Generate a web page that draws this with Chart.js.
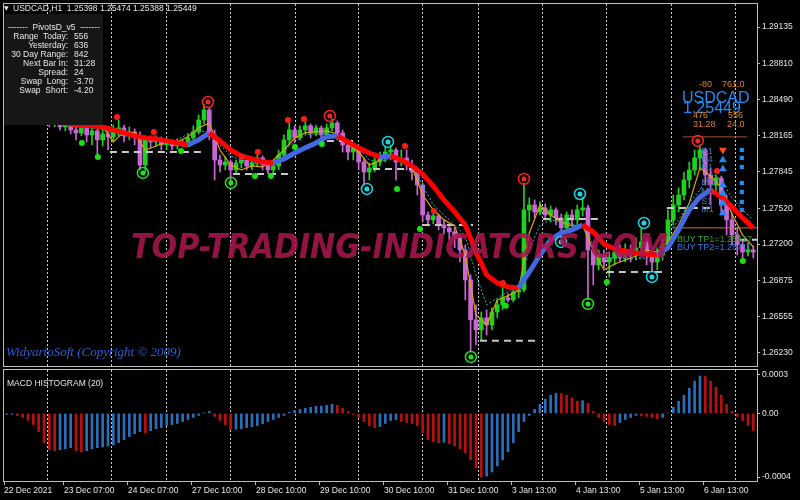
<!DOCTYPE html>
<html>
<head>
<meta charset="utf-8">
<title>USDCAD H1</title>
<script src="https://cdn.jsdelivr.net/npm/chart.js@4.4.1/dist/chart.umd.min.js"></script>
<style>
  html, body { margin: 0; padding: 0; background: #000; }
  #wrap { position: relative; width: 800px; height: 500px; overflow: hidden; background: #000;
          font-family: "Liberation Sans", "DejaVu Sans", sans-serif; }
  canvas { position: absolute; left: 0; }
  #main { top: 0; }
  #macd { top: 369px; }
  .t { position: absolute; white-space: pre; line-height: 1; color: #e6e6e6; font-size: 8.5px; }
  .box { position: absolute; left: 4px; top: 14px; width: 99px; height: 111px; background: #161616; }
  .lbl { width: 68px; left: 0; text-align: right; }
  .val { left: 74px; }
  .or { color: #e0821e; font-size: 9px; }
  .big { color: #1e8cf5; font-size: 16px; }
</style>
</head>
<body>
<div id="wrap">
  <canvas id="main" width="800" height="369"></canvas>
  <canvas id="macd" width="800" height="131"></canvas>

  <div class="t" style="left:4px; top:5px; font-family:'DejaVu Sans'; font-size:6px;">▼</div>
  <div class="t" style="left:13px; top:4px;">USDCAD,H1  1.25398 1.25474 1.25388 1.25449</div>

  <div class="box"></div>
  <div class="t" style="left:0; width:108px; text-align:center; top:23px;">-------  PivotsD_v5  -------</div>
  <div class="t lbl" style="top:32px;">Range  Today:</div><div class="t val" style="top:32px;">556</div>
  <div class="t lbl" style="top:41px;">Yesterday:</div><div class="t val" style="top:41px;">636</div>
  <div class="t lbl" style="top:50px;">30 Day Range:</div><div class="t val" style="top:50px;">842</div>
  <div class="t lbl" style="top:59px;">Next Bar In:</div><div class="t val" style="top:59px;">31:28</div>
  <div class="t lbl" style="top:68px;">Spread:</div><div class="t val" style="top:68px;">24</div>
  <div class="t lbl" style="top:77px;">Swap  Long:</div><div class="t val" style="top:77px;">-3.70</div>
  <div class="t lbl" style="top:86px;">Swap  Short:</div><div class="t val" style="top:86px;">-4.20</div>

  <div class="t or" style="left:699px; top:80px;">-80</div>
  <div class="t or" style="left:722px; top:80px;">761.0</div>
  <div class="t big" style="left:682px; top:90px;">USDCAD</div>
  <div class="t big" style="left:683px; top:100px;">1.25449</div>
  <div class="t or" style="left:693px; top:111px;">476</div>
  <div class="t or" style="left:728px; top:111px;">556</div>
  <div class="t or" style="left:693px; top:120px;">31.28</div>
  <div class="t or" style="left:727px; top:120px;">24.0</div>

  <div class="t" style="left:677px; top:235px; color:#2f9e2f; font-size:9px;">BUY TP1=1.25617</div>
  <div class="t" style="left:677px; top:243px; color:#3a78d8; font-size:9px;">BUY TP2=1.25711</div>

  <div class="t" style="left:6px; top:345px; color:#2d5fd8; font-size:13px; font-style:italic; font-family:'Liberation Serif', serif;">WidyartoSoft (Copyright © 2009)</div>
  <div class="t" style="left:7px; top:379px;">MACD HISTOGRAM (20)</div>
</div>

<script>
// H1 chart, one candle per 2 hours, prices
const openP = [
  1.28396, 1.28378, 1.28351, 1.28396, 1.28360, 1.28325, 1.28343, 1.28298, 1.28316, 1.28271,
  1.28289, 1.28245, 1.28262, 1.28218, 1.28191, 1.28236, 1.28173, 1.28209, 1.28129, 1.28182,
  1.28156, 1.28209, 1.28236, 1.28165, 1.28200, 1.28147, 1.27905, 1.28129, 1.28111, 1.28138,
  1.28084, 1.28111, 1.28075, 1.28102, 1.28084, 1.28147, 1.28200, 1.28307, 1.28396, 1.28173,
  1.27950, 1.27905, 1.27932, 1.27861, 1.27923, 1.27950, 1.27897, 1.27923, 1.27968, 1.27905,
  1.27861, 1.27897, 1.27994, 1.28129, 1.28218, 1.28147, 1.28218, 1.28254, 1.28191, 1.28236,
  1.28173, 1.28236, 1.28280, 1.28191, 1.28084, 1.28021, 1.28058, 1.27932, 1.27843, 1.27879,
  1.27932, 1.27968, 1.28021, 1.28039, 1.27932, 1.27968, 1.27905, 1.27843, 1.27727, 1.27460,
  1.27416, 1.27452, 1.27371, 1.27345, 1.27309, 1.27256, 1.27148, 1.26881, 1.26525, 1.26436,
  1.26543, 1.26480, 1.26596, 1.26659, 1.26721, 1.26703, 1.26774, 1.26792, 1.27505, 1.27549,
  1.27487, 1.27523, 1.27460, 1.27505, 1.27434, 1.27345, 1.27460, 1.27416, 1.27505, 1.27523,
  1.27148, 1.27014, 1.27103, 1.27041, 1.27077, 1.27130, 1.27077, 1.27148, 1.27103, 1.27167,
  1.27220, 1.27103, 1.27041, 1.27103, 1.27193, 1.27416, 1.27549, 1.27638, 1.27772, 1.27861,
  1.27968, 1.28039, 1.27816, 1.27727, 1.27789, 1.27549, 1.27416, 1.27282, 1.27193, 1.27130,
  1.27148
];
const highP = [
  1.28432, 1.28405, 1.28423, 1.28414, 1.28378, 1.28369, 1.28360, 1.28343, 1.28334, 1.28316,
  1.28307, 1.28289, 1.28289, 1.28262, 1.28271, 1.28254, 1.28236, 1.28227, 1.28254, 1.28236,
  1.28262, 1.28307, 1.28262, 1.28245, 1.28227, 1.28200, 1.28165, 1.28165, 1.28165, 1.28156,
  1.28147, 1.28129, 1.28138, 1.28129, 1.28182, 1.28254, 1.28351, 1.28449, 1.28414, 1.28218,
  1.27994, 1.27977, 1.27950, 1.27950, 1.27950, 1.27968, 1.27950, 1.27994, 1.27986, 1.27923,
  1.27932, 1.28039, 1.28173, 1.28280, 1.28254, 1.28254, 1.28289, 1.28271, 1.28262, 1.28254,
  1.28271, 1.28316, 1.28298, 1.28218, 1.28129, 1.28102, 1.28075, 1.27968, 1.27923, 1.27968,
  1.28021, 1.28066, 1.28084, 1.28057, 1.28039, 1.28039, 1.27950, 1.27879, 1.27745, 1.27487,
  1.27469, 1.27469, 1.27416, 1.27380, 1.27345, 1.27282, 1.27193, 1.26926, 1.26659, 1.26596,
  1.26614, 1.26632, 1.26703, 1.26819, 1.26757, 1.26810, 1.26837, 1.27745, 1.27612, 1.27594,
  1.27576, 1.27558, 1.27540, 1.27523, 1.27469, 1.27487, 1.27505, 1.27549, 1.27621, 1.27549,
  1.27193, 1.27148, 1.27148, 1.27130, 1.27167, 1.27193, 1.27202, 1.27193, 1.27256, 1.27345,
  1.27256, 1.27148, 1.27167, 1.27238, 1.27505, 1.27638, 1.27701, 1.27843, 1.27932, 1.28039,
  1.28084, 1.28057, 1.27879, 1.27816, 1.27807, 1.27638, 1.27478, 1.27345, 1.27238, 1.27211,
  1.27184
];
const lowP = [
  1.28343, 1.28316, 1.28325, 1.28334, 1.28289, 1.28298, 1.28271, 1.28271, 1.28245, 1.28245,
  1.28218, 1.28209, 1.28182, 1.28129, 1.28165, 1.28111, 1.28084, 1.27977, 1.28075, 1.28039,
  1.28111, 1.28165, 1.28111, 1.28129, 1.28084, 1.27861, 1.27843, 1.28057, 1.28075, 1.28039,
  1.28048, 1.28039, 1.28048, 1.28066, 1.28066, 1.28129, 1.28182, 1.28271, 1.28129, 1.27772,
  1.27843, 1.27861, 1.27772, 1.27825, 1.27879, 1.27861, 1.27861, 1.27888, 1.27861, 1.27825,
  1.27825, 1.27861, 1.27968, 1.28084, 1.28102, 1.28129, 1.28182, 1.28147, 1.28165, 1.28129,
  1.28147, 1.28209, 1.28129, 1.28021, 1.27950, 1.27950, 1.27861, 1.27727, 1.27772, 1.27843,
  1.27897, 1.27932, 1.27950, 1.27772, 1.27897, 1.27861, 1.27772, 1.27638, 1.27398, 1.27363,
  1.27380, 1.27327, 1.27291, 1.27238, 1.27167, 1.27041, 1.26703, 1.26239, 1.26302, 1.26347,
  1.26391, 1.26436, 1.26543, 1.26614, 1.26685, 1.26685, 1.26721, 1.26774, 1.27398, 1.27434,
  1.27460, 1.27416, 1.27398, 1.27371, 1.27256, 1.27309, 1.27363, 1.27380, 1.27452, 1.26703,
  1.26837, 1.26970, 1.26988, 1.26908, 1.27014, 1.27041, 1.27041, 1.27041, 1.27059, 1.27130,
  1.27014, 1.26952, 1.26970, 1.27059, 1.27148, 1.27371, 1.27487, 1.27594, 1.27701, 1.27816,
  1.27861, 1.27727, 1.27549, 1.27665, 1.27460, 1.27282, 1.27193, 1.27103, 1.27077, 1.27094,
  1.27077
];
const closeP = [
  1.28378, 1.28351, 1.28396, 1.28360, 1.28325, 1.28343, 1.28298, 1.28316, 1.28271, 1.28289,
  1.28245, 1.28262, 1.28218, 1.28191, 1.28236, 1.28173, 1.28209, 1.28129, 1.28182, 1.28156,
  1.28209, 1.28236, 1.28165, 1.28200, 1.28147, 1.27905, 1.28129, 1.28111, 1.28138, 1.28084,
  1.28111, 1.28075, 1.28102, 1.28084, 1.28147, 1.28200, 1.28307, 1.28396, 1.28173, 1.27950,
  1.27905, 1.27932, 1.27861, 1.27923, 1.27950, 1.27897, 1.27923, 1.27968, 1.27905, 1.27861,
  1.27897, 1.27994, 1.28129, 1.28218, 1.28147, 1.28218, 1.28254, 1.28191, 1.28236, 1.28173,
  1.28236, 1.28280, 1.28191, 1.28084, 1.28021, 1.28058, 1.27932, 1.27843, 1.27879, 1.27932,
  1.27968, 1.28021, 1.28039, 1.27932, 1.27968, 1.27905, 1.27843, 1.27727, 1.27460, 1.27416,
  1.27452, 1.27371, 1.27345, 1.27309, 1.27256, 1.27148, 1.26881, 1.26525, 1.26436, 1.26543,
  1.26480, 1.26596, 1.26659, 1.26721, 1.26703, 1.26774, 1.26792, 1.27505, 1.27549, 1.27487,
  1.27523, 1.27460, 1.27505, 1.27434, 1.27345, 1.27460, 1.27416, 1.27505, 1.27523, 1.27148,
  1.27014, 1.27103, 1.27041, 1.27077, 1.27130, 1.27077, 1.27148, 1.27103, 1.27167, 1.27220,
  1.27103, 1.27041, 1.27103, 1.27193, 1.27416, 1.27549, 1.27638, 1.27772, 1.27861, 1.27968,
  1.28039, 1.27816, 1.27727, 1.27789, 1.27549, 1.27416, 1.27282, 1.27193, 1.27130, 1.27148,
  1.27130
];
const macdHist = [
  -0.000007, -0.000007, -0.000014, -0.000028, -0.000049, -0.000077, -0.000126, -0.000202, -0.000251, -0.000258,
  -0.000251, -0.000244, -0.000237, -0.000258, -0.000265, -0.000258, -0.000244, -0.000237, -0.000232, -0.000226,
  -0.000218, -0.000202, -0.000181, -0.000160, -0.000140, -0.000126, -0.000133, -0.000119, -0.000105, -0.000098,
  -0.000084, -0.000077, -0.000070, -0.000056, -0.000042, -0.000028, -0.000014, 0.000002, 0.000014, -0.000021,
  -0.000049, -0.000077, -0.000112, -0.000109, -0.000105, -0.000098, -0.000091, -0.000084, -0.000070, -0.000056,
  -0.000042, -0.000028, -0.000014, 0.000007, 0.000021, 0.000028, 0.000035, 0.000042, 0.000049, 0.000051,
  0.000056, 0.000063, 0.000056, 0.000035, 0.000014, -0.000007, -0.000028, -0.000056, -0.000084, -0.000098,
  -0.000091, -0.000070, -0.000049, -0.000042, -0.000056, -0.000063, -0.000070, -0.000084, -0.000133, -0.000181,
  -0.000195, -0.000202, -0.000200, -0.000209, -0.000223, -0.000244, -0.000272, -0.000321, -0.000377, -0.000440,
  -0.000433, -0.000405, -0.000363, -0.000321, -0.000265, -0.000202, -0.000126, -0.000056, -0.000014, 0.000028,
  0.000063, 0.000098, 0.000126, 0.000140, 0.000137, 0.000126, 0.000105, 0.000084, 0.000088, 0.000070,
  0.000014, -0.000028, -0.000056, -0.000077, -0.000084, -0.000063, -0.000042, -0.000028, -0.000014, -0.000018,
  -0.000021, -0.000028, -0.000035, -0.000028, 0.000003, 0.000042, 0.000084, 0.000126, 0.000174, 0.000223,
  0.000258, 0.000256, 0.000223, 0.000181, 0.000126, 0.000063, 0.000014, -0.000021, -0.000049, -0.000084,
  -0.000119
];

// indicator lines, one point per 4 hours
const trendLine = [
  1.28378, 1.28360, 1.28343, 1.28325, 1.28307, 1.28289, 1.28271, 1.28262, 1.28254, 1.28245,
  1.28218, 1.28191, 1.28165, 1.28147, 1.28138, 1.28120, 1.28102, 1.28084, 1.28129, 1.28191,
  1.28120, 1.28039, 1.27986, 1.27959, 1.27932, 1.27923, 1.27959, 1.28012, 1.28058, 1.28102,
  1.28156, 1.28165, 1.28111, 1.28058, 1.28012, 1.27977, 1.27986, 1.27950, 1.27897, 1.27825,
  1.27718, 1.27594, 1.27487, 1.27371, 1.27130, 1.26926, 1.26854, 1.26819, 1.26810, 1.26952,
  1.27103, 1.27238, 1.27300, 1.27327, 1.27371, 1.27309, 1.27202, 1.27157, 1.27139, 1.27121,
  1.27112, 1.27103, 1.27167, 1.27327, 1.27505, 1.27621, 1.27683, 1.27621, 1.27532, 1.27434,
  1.27345
];
const fastLine = [
  1.28369, 1.28351, 1.28334, 1.28307, 1.28289, 1.28271, 1.28262, 1.28271, 1.28254, 1.28245,
  1.28111, 1.28200, 1.28191, 1.28039, 1.28075, 1.28111, 1.28111, 1.28156, 1.28236, 1.28280,
  1.28039, 1.27905, 1.27861, 1.27897, 1.27888, 1.27950, 1.28039, 1.28147, 1.28191, 1.28200,
  1.28209, 1.28182, 1.28093, 1.28021, 1.27905, 1.27950, 1.27994, 1.27950, 1.27888, 1.27638,
  1.27505, 1.27416, 1.27363, 1.27103, 1.26569, 1.26480, 1.26703, 1.26739, 1.26792, 1.27300,
  1.27549, 1.27460, 1.27398, 1.27363, 1.27363, 1.27148, 1.26970, 1.27023, 1.27059, 1.27094,
  1.27148, 1.27130, 1.27220, 1.27371, 1.27567, 1.27879, 1.27807, 1.27701, 1.27469, 1.27282,
  1.27175
];
const slowLine = [
  1.28360, 1.28343, 1.28325, 1.28307, 1.28289, 1.28271, 1.28254, 1.28245, 1.28236, 1.28218,
  1.28191, 1.28165, 1.28147, 1.28129, 1.28120, 1.28120, 1.28129, 1.28182, 1.28209, 1.28200,
  1.28084, 1.27986, 1.27950, 1.27923, 1.27923, 1.27941, 1.28030, 1.28111, 1.28173, 1.28182,
  1.28182, 1.28165, 1.28129, 1.28058, 1.27950, 1.27932, 1.27968, 1.27959, 1.27888, 1.27727,
  1.27549, 1.27460, 1.27371, 1.27273, 1.26926, 1.26659, 1.26721, 1.26774, 1.26837, 1.27148,
  1.27371, 1.27416, 1.27398, 1.27380, 1.27363, 1.27193, 1.27077, 1.27077, 1.27068, 1.27068,
  1.27077, 1.27148, 1.27282, 1.27416, 1.27567, 1.27683, 1.27843, 1.27772, 1.27612, 1.27505,
  1.27416
];

// signal markers: [hours from chart start, price]
const redDots = [[42.4, 1.28334], [56.2, 1.28200], [89.2, 1.27977], [95.2, 1.28022], [106.5, 1.28307],
  [112.5, 1.28316], [150.4, 1.28075], [161.2, 1.27496], [187.1, 1.26854], [267.4, 1.27852]];
const greenDots = [[29.2, 1.28102], [35.2, 1.27977], [66.4, 1.28031], [94.1, 1.27808], [100.1, 1.27808],
  [109.1, 1.28066], [119.2, 1.28093], [147.4, 1.27692], [156.0, 1.27336], [188.2, 1.26650],
  [226.1, 1.26863], [277.1, 1.27050]];
const greenRings = [[52.1, 1.27835], [85.1, 1.27746], [175.1, 1.26195], [219.0, 1.26667]];
const redRings = [[76.5, 1.28467], [122.2, 1.28342], [195.0, 1.27781], [260.2, 1.28120]];
const cyanRings = [[136.1, 1.27692], [144.0, 1.28111], [208.9, 1.27220], [216.0, 1.27647], [240.0, 1.27389], [243.0, 1.26908]];

const arrowTime = 269.6;
const downArrows = [1.28039];
const upArrows = [1.27950, 1.27870, 1.27727, 1.27656, 1.27567, 1.27478];
const boxTime = 276.7;
const boxLevels = [1.28039, 1.27968, 1.27888, 1.27745, 1.27665, 1.27576, 1.27505];

// daily pivot segments (dashed)
const pivotFrom = [39.7, 85.9, 121.1, 138.4, 157.1, 178.5, 202.1, 226.1, 248.6, 276.0];
const pivotTo = [75.4, 107.2, 130.9, 154.9, 175.9, 201.0, 224.6, 247.9, 265.9, 282.4];
const pivotLevel = [1.28022, 1.27825, 1.28120, 1.27870, 1.27371, 1.26338, 1.27425, 1.26952, 1.27523, 1.27238];
const tpFrom = [254.6, 250.9];
const tpTo = [278.6, 282.4];
const tpLevel = [1.28156, 1.27345];
const tpColor = ['#a0522d', '#c8742e'];

const pivotNameTime = 261.5;
const pivotNames = ['R1', 'R4', 'R1', 'MD', 'M5', 'S1', 'M1'];
const pivotNameLevel = [1.28022, 1.27950, 1.27879, 1.27745, 1.27665, 1.27576, 1.27505];

// axes
const priceTicks = [1.29135, 1.28810, 1.28490, 1.28165, 1.27845, 1.27520, 1.27200, 1.26875, 1.26555, 1.26230];
const dayStarts = [16.5, 40.5, 61.1, 85.1, 109.5, 133.1, 157.1, 178.1, 202.1, 226.1, 250.5, 274.5];
const timeTicks = [0, 22.5, 46.5, 70.5, 94.5, 118.5, 142.5, 166.5, 190.5, 214.5, 238.5, 262.5];
const timeLabels = ['22 Dec 2021', '23 Dec 07:00', '24 Dec 07:00', '27 Dec 10:00', '28 Dec 10:00', '29 Dec 10:00',
  '30 Dec 10:00', '31 Dec 10:00', '3 Jan 13:00', '4 Jan 13:00', '5 Jan 13:00', '6 Jan 13:00'];
const macdTicks = [0.00027, 0, -0.00044];
const macdTickLabels = ['0.0003', '0.00', '-0.0004'];

const barTime = closeP.map((_, i) => 2 * i + 1);
const lineTime = trendLine.map((_, j) => 4 * j + 1);
const X_MAX = 282.4;

const axisFont = { family: 'Liberation Sans', size: 8.5 };
const GRID = '#cfcfcf';
const FRAME = '#bdbdbd';

const candleColor = closeP.map((c, i) => c >= openP[i] ? '#1fd11f' : '#cc66d6');
const macdColor = macdHist.map((v, i) => i > 0 && v < macdHist[i - 1] ? '#b80f0f' : '#2a6db8');

const pts = arr => arr.map(a => ({ x: a[0], y: a[1] }));
// keep the plot area fixed, labels may hang over its edges
const noPad = s => { s.paddingTop = 0; s.paddingBottom = 0; s.paddingLeft = 0; s.paddingRight = 0; };

const framePlugin = {
  id: 'frame',
  afterDraw(chart) {
    const { ctx, chartArea: a } = chart;
    ctx.save();
    ctx.strokeStyle = FRAME;
    ctx.lineWidth = 1;
    ctx.strokeRect(a.left - 0.5, a.top - 0.5, a.right - a.left + 1, a.bottom - a.top + 1);
    ctx.restore();
  }
};

const overlayPlugin = {
  id: 'overlay',
  afterDatasetsDraw(chart) {
    const { ctx, scales: { x, y } } = chart;
    ctx.save();
    // pivot names
    ctx.font = '9px "Liberation Sans"';
    ctx.fillStyle = '#3f74b8';
    ctx.textBaseline = 'middle';
    pivotNames.forEach((n, i) => ctx.fillText(n, x.getPixelForValue(pivotNameTime), y.getPixelForValue(pivotNameLevel[i])));
    // watermark
    const txt = 'TOP-TRADING-INDICATORS.COM';
    ctx.font = 'italic bold 34px "DejaVu Sans"';
    ctx.textBaseline = 'alphabetic';
    const w = ctx.measureText(txt).width;
    ctx.translate(131, 258);
    ctx.scale(537 / w, 1);
    ctx.fillStyle = 'rgba(168, 22, 78, 0.88)';
    ctx.fillText(txt, 0, 0);
    ctx.restore();
  }
};

const ring = (data, color) => ({
  type: 'line', showLine: false, data: pts(data), order: 0,
  pointRadius: 5.5, pointBorderWidth: 1.5, pointBorderColor: color, pointBackgroundColor: 'rgba(0,0,0,0)'
});
const dot = (data, color, r) => ({
  type: 'line', showLine: false, data: pts(data), order: 0,
  pointRadius: r, pointBorderWidth: 0, pointBackgroundColor: color
});

const pivotSets = pivotFrom.map((f, i) => ({
  type: 'line', order: 6, pointRadius: 0, borderWidth: 2, borderColor: '#c8c8c8', borderDash: [7, 5],
  data: [{ x: f, y: pivotLevel[i] }, { x: pivotTo[i], y: pivotLevel[i] }]
}));
const tpSets = tpFrom.map((f, i) => ({
  type: 'line', order: 6, pointRadius: 0, borderWidth: 1, borderColor: tpColor[i],
  data: [{ x: f, y: tpLevel[i] }, { x: tpTo[i], y: tpLevel[i] }]
}));

new Chart(document.getElementById('main'), {
  type: 'bar',
  data: {
    datasets: [
      { type: 'bar', order: 10, grouped: false, barThickness: 1, backgroundColor: candleColor,
        data: barTime.map((t, i) => ({ x: t, y: [lowP[i], highP[i]] })) },
      { type: 'bar', order: 9, grouped: false, barThickness: 4, minBarLength: 1, backgroundColor: candleColor,
        data: barTime.map((t, i) => ({ x: t, y: [openP[i], closeP[i]] })) },
      ...pivotSets,
      ...tpSets,
      { type: 'line', order: 4, pointRadius: 0, borderWidth: 1, borderColor: '#1cc0c0', borderDash: [2, 2],
        data: lineTime.map((t, j) => ({ x: t, y: slowLine[j] })) },
      { type: 'line', order: 4, pointRadius: 0, borderWidth: 1.2, borderColor: '#d8a800',
        data: lineTime.map((t, j) => ({ x: t, y: fastLine[j] })) },
      { type: 'line', order: 3, pointRadius: 0, borderWidth: 5, borderColor: '#ff0000',
        segment: { borderColor: c => c.p1.parsed.y < c.p0.parsed.y ? '#ff0000' : '#4169e1' },
        data: lineTime.map((t, j) => ({ x: t, y: trendLine[j] })) },
      dot(redDots, '#ff1a1a', 3),
      dot(greenDots, '#16e016', 3),
      ring(greenRings, '#1ee61e'), dot(greenRings, '#1ee61e', 2.5),
      ring(redRings, '#ff2020'), dot(redRings, '#ff2020', 2.5),
      ring(cyanRings, '#18d8e8'), dot(cyanRings, '#18d8e8', 2.5),
      { type: 'line', showLine: false, order: 0, pointStyle: 'triangle', rotation: 180, pointRadius: 4.5,
        pointBorderWidth: 0, pointBackgroundColor: '#ff4a12', data: downArrows.map(v => ({ x: arrowTime, y: v })) },
      { type: 'line', showLine: false, order: 0, pointStyle: 'triangle', pointRadius: 4.5,
        pointBorderWidth: 0, pointBackgroundColor: '#1e8cf5', data: upArrows.map(v => ({ x: arrowTime, y: v })) },
      { type: 'line', showLine: false, order: 0, pointStyle: 'rect', pointRadius: 3,
        pointBorderWidth: 0, pointBackgroundColor: '#1e8cf5', data: boxLevels.map(v => ({ x: boxTime, y: v })) }
    ]
  },
  options: {
    responsive: false,
    animation: false,
    events: [],
    layout: { autoPadding: false, padding: { left: 4, top: 4, right: 0, bottom: 3 } },
    plugins: { legend: { display: false }, tooltip: { enabled: false } },
    scales: {
      x: {
        type: 'linear', min: 0, max: X_MAX, offset: false,
        afterBuildTicks: s => { s.ticks = dayStarts.map(v => ({ value: v })); },
        afterFit: s => { s.height = 0; noPad(s); },
        ticks: { display: false },
        grid: { color: GRID, drawTicks: false, offset: false, borderDash: [2, 2] },
        border: { display: false, dash: [2, 2] }
      },
      y: {
        type: 'linear', position: 'right', min: 1.26114, max: 1.29340, beginAtZero: false,
        afterBuildTicks: s => { s.ticks = priceTicks.map(v => ({ value: v })); },
        afterFit: s => { s.width = 43; noPad(s); },
        ticks: { color: '#e6e6e6', font: axisFont, padding: 2, callback: v => v.toFixed(5) },
        grid: { drawOnChartArea: false, color: FRAME, tickLength: 3 },
        border: { color: FRAME }
      }
    }
  },
  plugins: [framePlugin, overlayPlugin]
});

new Chart(document.getElementById('macd'), {
  type: 'bar',
  data: {
    datasets: [{
      grouped: false, barThickness: 2, backgroundColor: macdColor,
      data: barTime.map((t, i) => ({ x: t, y: macdHist[i] }))
    }]
  },
  options: {
    responsive: false,
    animation: false,
    events: [],
    layout: { autoPadding: false, padding: { left: 4, top: 1, right: 0, bottom: 0 } },
    plugins: { legend: { display: false }, tooltip: { enabled: false } },
    scales: {
      x: {
        type: 'linear', position: 'bottom', min: 0, max: X_MAX, offset: false,
        afterBuildTicks: s => { s.ticks = timeTicks.map(v => ({ value: v })); },
        afterFit: s => { s.height = 19; noPad(s); },
        ticks: { autoSkip: false, maxRotation: 0, align: 'start', color: '#e6e6e6', font: axisFont, padding: 1,
                 callback: (v, i) => timeLabels[i] },
        grid: { drawOnChartArea: false, offset: false, color: FRAME, tickLength: 4 },
        border: { color: FRAME }
      },
      xg: {
        type: 'linear', position: 'bottom', min: 0, max: X_MAX, offset: false,
        afterBuildTicks: s => { s.ticks = dayStarts.map(v => ({ value: v })); },
        afterFit: s => { s.height = 0; noPad(s); },
        ticks: { display: false },
        grid: { color: GRID, drawTicks: false, offset: false, borderDash: [2, 2] },
        border: { display: false, dash: [2, 2] }
      },
      y: {
        type: 'linear', position: 'right', min: -0.000467, max: 0.0003, beginAtZero: false,
        afterBuildTicks: s => { s.ticks = macdTicks.map(v => ({ value: v })); },
        afterFit: s => { s.width = 43; noPad(s); },
        ticks: { color: '#e6e6e6', font: axisFont, padding: 2, callback: (v, i) => macdTickLabels[i] },
        grid: { drawOnChartArea: false, color: FRAME, tickLength: 3 },
        border: { color: FRAME }
      }
    }
  },
  plugins: [framePlugin]
});
</script>
</body>
</html>
